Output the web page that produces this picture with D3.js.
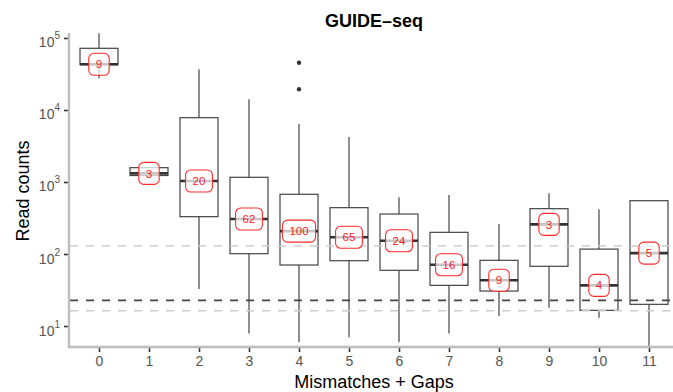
<!DOCTYPE html>
<html>
<head>
<meta charset="utf-8">
<script src="https://cdn.jsdelivr.net/npm/d3@7"></script>
<style>
  body { margin: 0; background: #fff; }
  svg { font-family: "Liberation Sans", Arial, Helvetica, sans-serif; }
</style>
</head>
<body>
<div id="chart"></div>
<script>
// categories and box stats
var categories = ['0', '1', '2', '3', '4', '5', '6', '7', '8', '9', '10', '11'];
var whiskerLow = [27550, 1230, 32.7, 7.9, 5.94, 6.96, 5.94, 7.9, 13.8, 17.9, 13.0, 5];
var q1 = [42600, 1230, 330, 101, 70.3, 80.7, 59.4, 36.7, 30.6, 67.5, 16.5, 20.0];
var medians = [43100, 1316, 1032, 306, 208, 171, 153, 71, 43.2, 258, 36.7, 103];
var q3 = [71900, 1581, 7820, 1162, 675, 440, 359, 200, 81.7, 426, 117, 550];
var whiskerHigh = [116000, 1581, 36700, 14100, 6390, 4220, 613, 659, 261, 696, 418, 550];
var counts = [9, 3, 20, 62, 100, 65, 24, 16, 9, 3, 4, 5];
var outlierCats = ['4', '4'];
var outlierValues = [45400, 19400];
var refLight = [129, 16.3];
var refDark = [22.7];
var yTicks = [10, 100, 1000, 10000, 100000];

var width = 673, height = 392;
var panelLeft = 69, panelTop = 33, panelBottom = 347;

var svg = d3.select('#chart')
    .append('svg')
    .attr('width', width)
    .attr('height', height);

var x = d3.scalePoint()
    .domain(categories)
    .range([99, 649]);

var y = d3.scaleLog()
    .domain([5.11, 117300])
    .range([panelBottom, panelTop]);

var boxW = 38;

var data = categories.map(function(c, i) {
    return { cat: c, lo: whiskerLow[i], q1: q1[i], med: medians[i], q3: q3[i], hi: whiskerHigh[i], n: counts[i] };
});

svg.append('defs').append('clipPath').attr('id', 'clip')
    .append('rect').attr('x', panelLeft).attr('y', 0).attr('width', width - panelLeft).attr('height', panelBottom);

var plot = svg.append('g').attr('clip-path', 'url(#clip)');

// whiskers
plot.selectAll('.whisker')
    .data(data)
    .enter()
    .append('line')
    .attr('x1', d => x(d.cat))
    .attr('x2', d => x(d.cat))
    .attr('y1', d => y(d.lo))
    .attr('y2', d => y(d.hi))
    .attr('stroke', '#444')
    .attr('stroke-width', 1.2);

// boxes
plot.selectAll('.box')
    .data(data)
    .enter()
    .append('rect')
    .attr('x', d => x(d.cat) - boxW / 2)
    .attr('width', boxW)
    .attr('y', d => y(d.q3))
    .attr('height', d => Math.max(0.5, y(d.q1) - y(d.q3)))
    .attr('fill', '#fff')
    .attr('stroke', '#444')
    .attr('stroke-width', 1.2);

// medians
plot.selectAll('.median')
    .data(data)
    .enter()
    .append('line')
    .attr('x1', d => x(d.cat) - boxW / 2)
    .attr('x2', d => x(d.cat) + boxW / 2)
    .attr('y1', d => y(d.med))
    .attr('y2', d => y(d.med))
    .attr('stroke', '#333')
    .attr('stroke-width', 2.6);

// outliers
plot.selectAll('.outlier')
    .data(outlierValues)
    .enter()
    .append('circle')
    .attr('cx', (d, i) => x(outlierCats[i]))
    .attr('cy', d => y(d))
    .attr('r', 2.2)
    .attr('fill', '#333');

// reference lines
plot.selectAll('.ref-light')
    .data(refLight)
    .enter()
    .append('line')
    .attr('x1', panelLeft + 1)
    .attr('x2', width)
    .attr('y1', d => y(d))
    .attr('y2', d => y(d))
    .attr('stroke', '#cccccc')
    .attr('stroke-width', 1.6)
    .attr('stroke-dasharray', '8,8');

plot.selectAll('.ref-dark')
    .data(refDark)
    .enter()
    .append('line')
    .attr('x1', panelLeft + 1)
    .attr('x2', width)
    .attr('y1', d => y(d))
    .attr('y2', d => y(d))
    .attr('stroke', '#444')
    .attr('stroke-width', 1.6)
    .attr('stroke-dasharray', '8,8');

// count labels
var lab = plot.selectAll('.lab')
    .data(data)
    .enter()
    .append('g')
    .attr('transform', d => 'translate(' + x(d.cat) + ',' + y(d.med) + ')');

lab.append('text')
    .attr('text-anchor', 'middle')
    .attr('dy', '0.36em')
    .attr('font-size', 11.5)
    .attr('fill', '#ff1a1a')
    .text(d => d.n);

lab.each(function() {
    var g = d3.select(this);
    var w = g.select('text').node().getComputedTextLength() + 14;
    g.insert('rect', 'text')
        .attr('x', -w / 2)
        .attr('y', -11)
        .attr('width', w)
        .attr('height', 22)
        .attr('rx', 5)
        .attr('fill', '#fff')
        .attr('fill-opacity', 0.72)
        .attr('stroke', '#ff2a2a')
        .attr('stroke-width', 1.1);
});

// axes
var xAxis = svg.append('g')
    .attr('transform', 'translate(0,' + panelBottom + ')')
    .call(d3.axisBottom(x).tickSize(5).tickPadding(4));
xAxis.select('.domain').remove();

var yAxis = svg.append('g')
    .attr('transform', 'translate(' + panelLeft + ',0)')
    .call(d3.axisLeft(y).tickValues(yTicks).tickSize(5).tickPadding(4).tickFormat(''));
yAxis.select('.domain').remove();

svg.selectAll('.tick line').attr('stroke', '#333').attr('stroke-width', 1.6);

xAxis.attr('font-size', 14).attr('font-family', null);
xAxis.selectAll('.tick text')
    .attr('fill', '#555');

yAxis.attr('font-size', 14).attr('font-family', null);
yAxis.selectAll('.tick text').remove();
yAxis.selectAll('.tick').each(function(d) {
    var t = d3.select(this).append('text')
        .attr('x', -9)
        .attr('y', 9)
        .attr('text-anchor', 'end')
        .attr('fill', '#555');
    t.append('tspan').text('10');
    t.append('tspan').attr('dy', -8).attr('font-size', 10).text(Math.round(Math.log10(d)));
});

// axis lines
svg.append('line')
    .attr('x1', panelLeft).attr('x2', panelLeft)
    .attr('y1', panelTop).attr('y2', panelBottom + 1.2)
    .attr('stroke', '#bdbdbd').attr('stroke-width', 2.4);
svg.append('line')
    .attr('x1', panelLeft - 1.2).attr('x2', width)
    .attr('y1', panelBottom).attr('y2', panelBottom)
    .attr('stroke', '#bdbdbd').attr('stroke-width', 2.4);

// titles
svg.append('text')
    .attr('x', 374)
    .attr('y', 27)
    .attr('text-anchor', 'middle')
    .attr('font-size', 18)
    .attr('font-weight', 'bold')
    .text('GUIDE\u2013seq');

svg.append('text')
    .attr('x', 374)
    .attr('y', 388)
    .attr('text-anchor', 'middle')
    .attr('font-size', 18)
    .text('Mismatches + Gaps');

svg.append('text')
    .attr('transform', 'translate(28.5,191) rotate(-90)')
    .attr('text-anchor', 'middle')
    .attr('font-size', 18)
    .text('Read counts');
</script>
</body>
</html>
